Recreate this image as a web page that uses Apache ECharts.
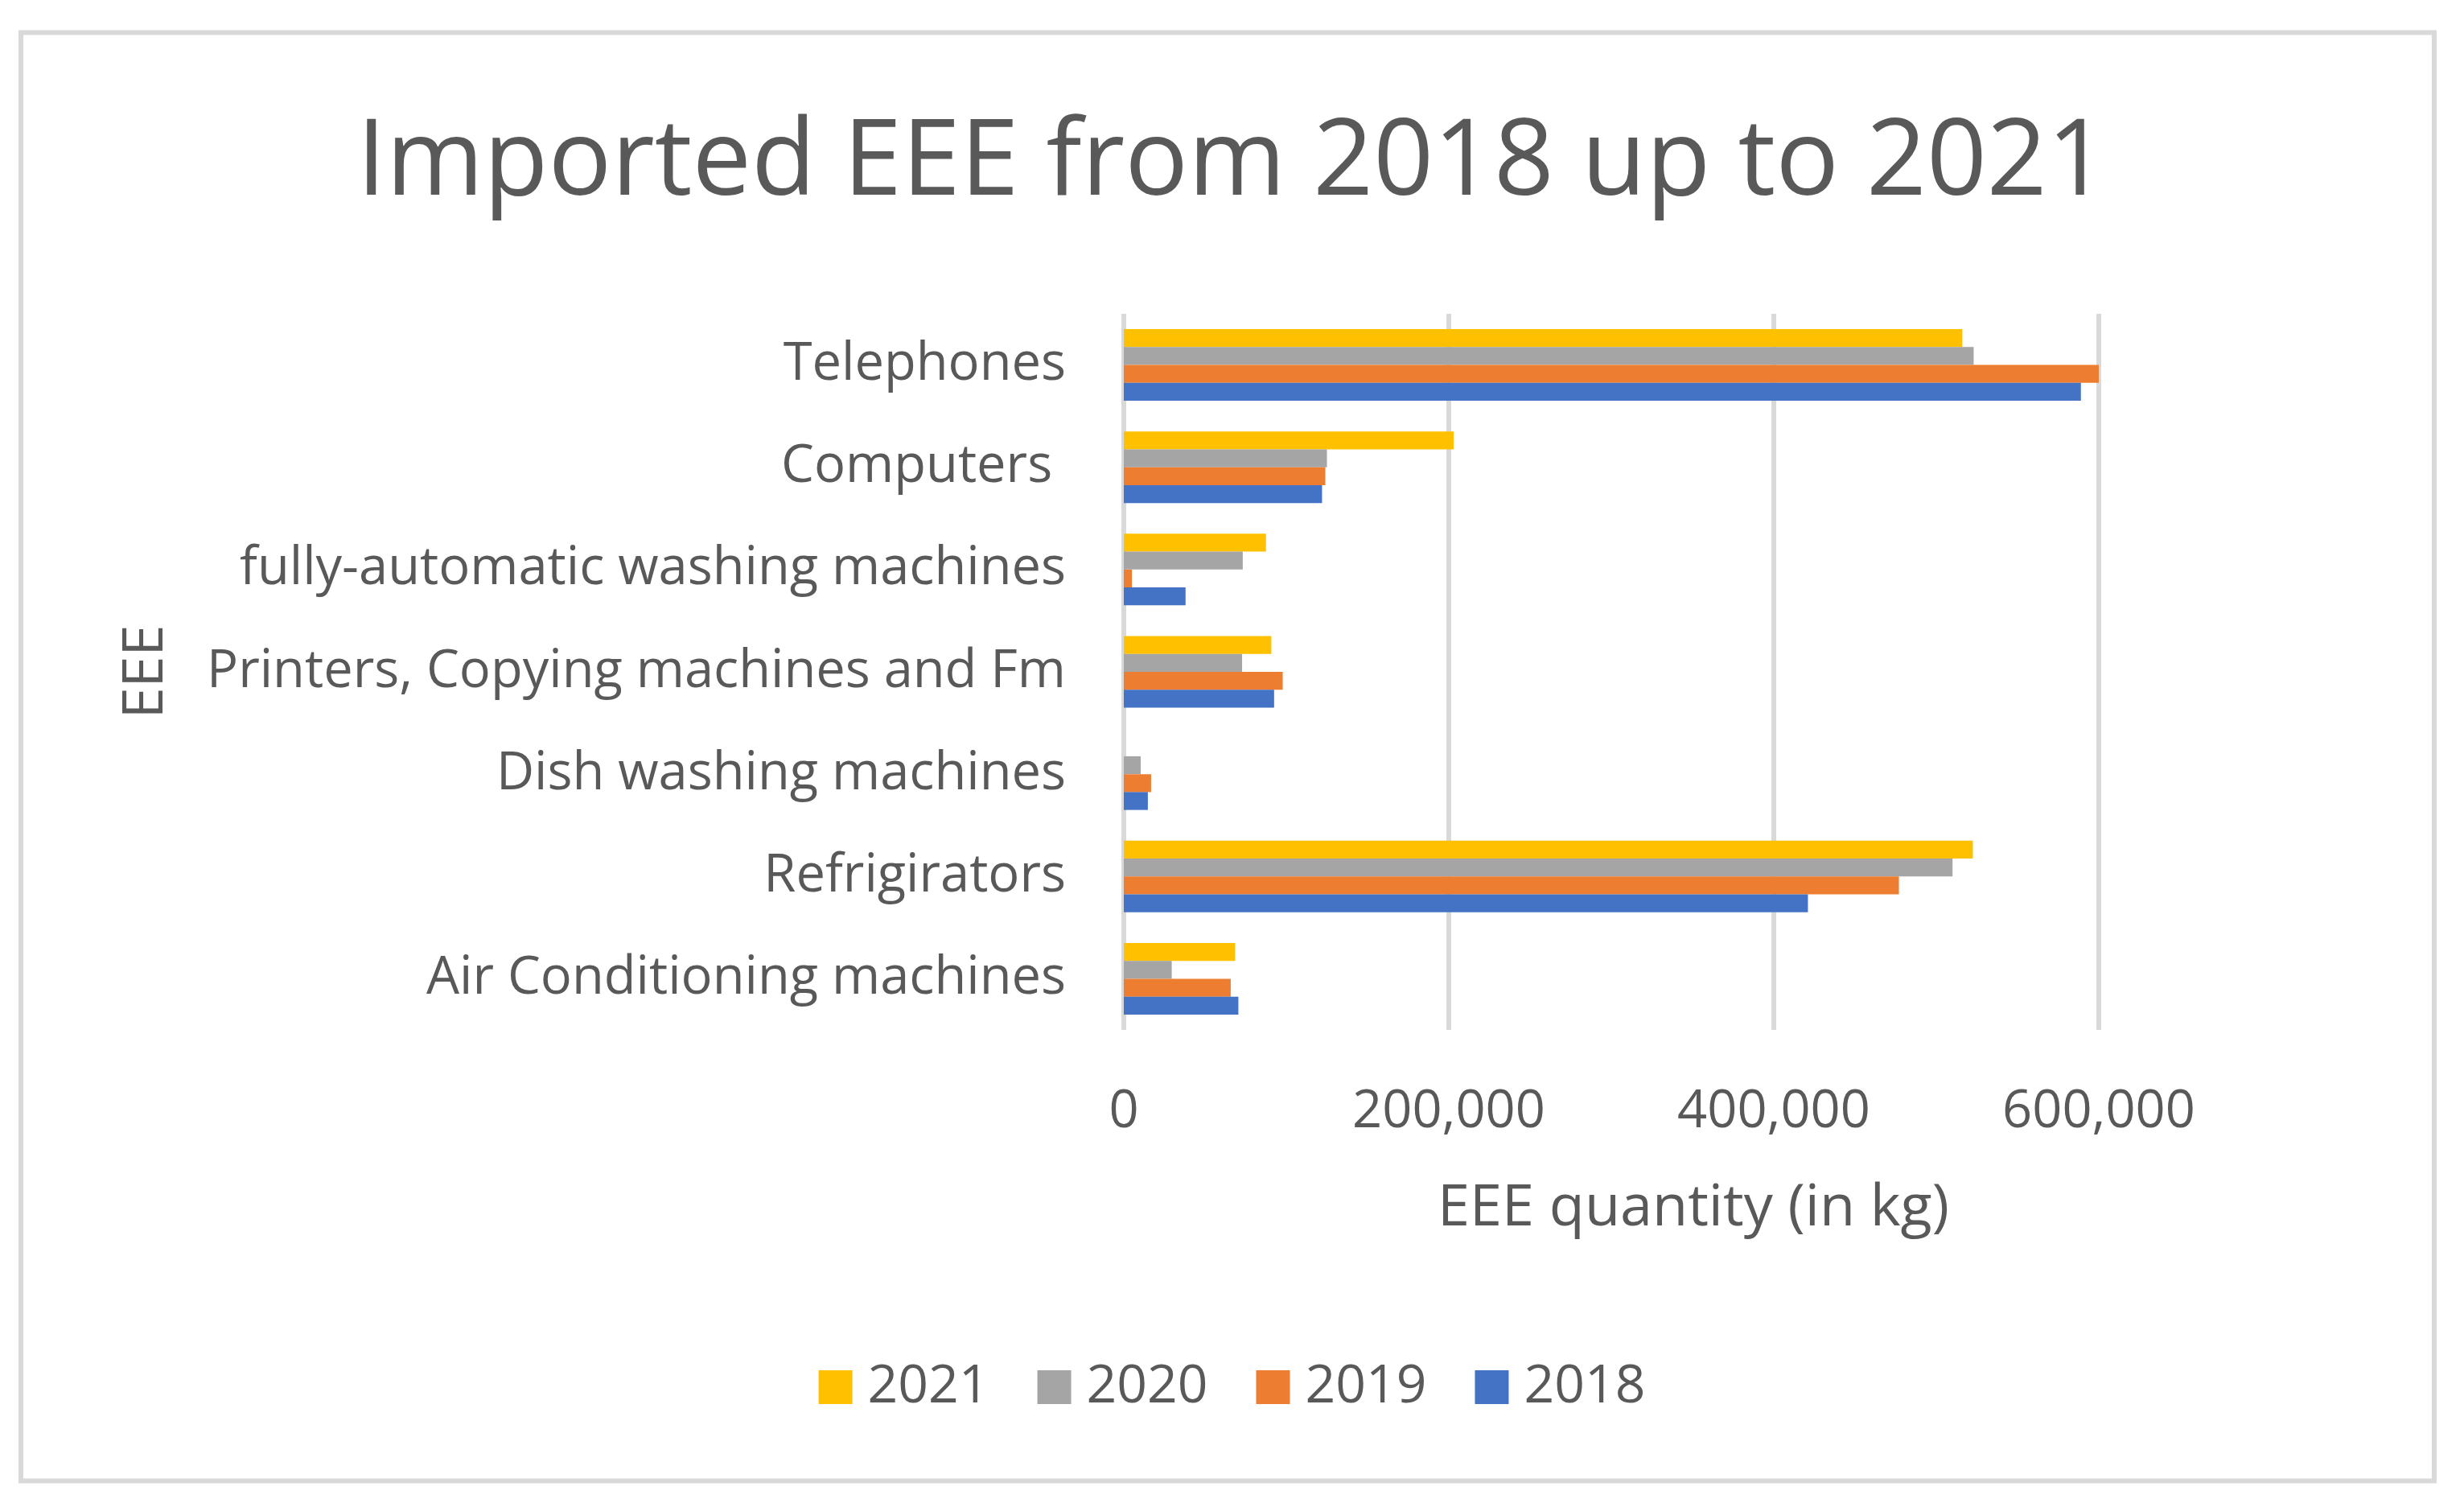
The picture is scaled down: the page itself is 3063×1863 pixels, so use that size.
<!DOCTYPE html>
<html>
<head>
<meta charset="utf-8">
<script src="https://cdn.jsdelivr.net/npm/echarts@6/dist/echarts.min.js"></script>
<style>
	html, body { margin: 0; padding: 0; background: #fff; }
	#main { width: 3063px; height: 1863px; }
</style>
</head>
<body>
<div id="main"></div>
<script>
// categories, bottom to top as in the chart
const categories = [
	'Air Conditioning machines',
	'Refrigirators',
	'Dish washing machines',
	'Printers, Copying machines and Fm',
	'fully-automatic washing machines',
	'Computers ',
	'Telephones'
];
const years = ['2021', '2020', '2019', '2018'];
const values2018 = [70500, 421000, 14800, 92500, 38000, 122000, 589000];
const values2019 = [65800, 477000, 16800, 97800, 5000, 124000, 600000];
const values2020 = [29500, 510000, 10400, 72800, 73200, 125000, 523000];
const values2021 = [68500, 522500, 0, 90800, 87500, 203000, 516000];
const xTicks = [0, 200000, 400000, 600000];

const colors = ['#FFC000', '#A5A5A5', '#ED7D31', '#4472C4'];
const textColor = '#595959';
const font = 'Open Sans';

let myChart = echarts.init(document.getElementById('main'));
// echarts puts the first series at the top of each group
const seriesValues = [values2021, values2020, values2019, values2018];

let option = {
	backgroundColor: '#ffffff',
	textStyle: { fontFamily: font, color: textColor },
	graphic: [{
		type: 'rect',
		shape: { x: 26, y: 40.5, width: 3000, height: 1800 },
		style: { fill: 'none', stroke: '#D9D9D9', lineWidth: 6 },
		silent: true
	}],
	title: {
		text: 'Imported EEE from 2018 up to 2021',
		left: 'center',
		top: 134,
		textStyle: {
			fontFamily: font,
			fontWeight: 'normal',
			fontSize: 131,
			color: textColor
		}
	},
	legend: {
		data: ['2021', '2020', '2019', '2018'],
		left: 'center',
		top: 1686,
		padding: [5, 5, 5, 24],
		icon: 'rect',
		itemWidth: 42,
		itemHeight: 42,
		itemGap: 60,
		textStyle: {
			fontFamily: font,
			fontSize: 66,
			color: textColor,
			padding: [0, 0, 0, 14]
		}
	},
	grid: {
		left: 1397,
		right: 3063 - 2609,
		top: 390,
		bottom: 1863 - 1280,
		containLabel: false
	},
	xAxis: {
		type: 'value',
		min: xTicks[0],
		max: xTicks[xTicks.length - 1],
		interval: xTicks[1] - xTicks[0],
		name: 'EEE quantity (in kg)',
		nameLocation: 'middle',
		nameGap: 186,
		nameTextStyle: {
			fontFamily: font,
			fontSize: 72,
			color: textColor,
			padding: [0, 0, 0, 204]
		},
		axisLine: { show: false },
		axisTick: { show: false },
		axisLabel: {
			margin: 70,
			fontFamily: font,
			fontSize: 65,
			color: textColor,
			formatter: function(v) { return v.toLocaleString('en-US'); }
		},
		splitLine: { lineStyle: { color: '#D9D9D9', width: 6 } }
	},
	yAxis: {
		type: 'category',
		data: categories,
		name: 'EEE',
		nameLocation: 'middle',
		nameRotate: 90,
		nameGap: 1180,
		nameTextStyle: {
			fontFamily: font,
			fontSize: 70,
			color: textColor
		},
		axisLine: { show: false },
		axisTick: { show: false },
		axisLabel: {
			margin: 72,
			fontFamily: font,
			fontSize: 65,
			color: textColor
		},
		splitLine: { show: false }
	},
	series: years.map(function(y, i) {
		return {
			name: y,
			type: 'bar',
			data: seriesValues[i],
			barGap: '0%',
			barCategoryGap: '30%',
			itemStyle: { color: colors[i] }
		};
	})
};

myChart.setOption(option);
</script>
</body>
</html>
